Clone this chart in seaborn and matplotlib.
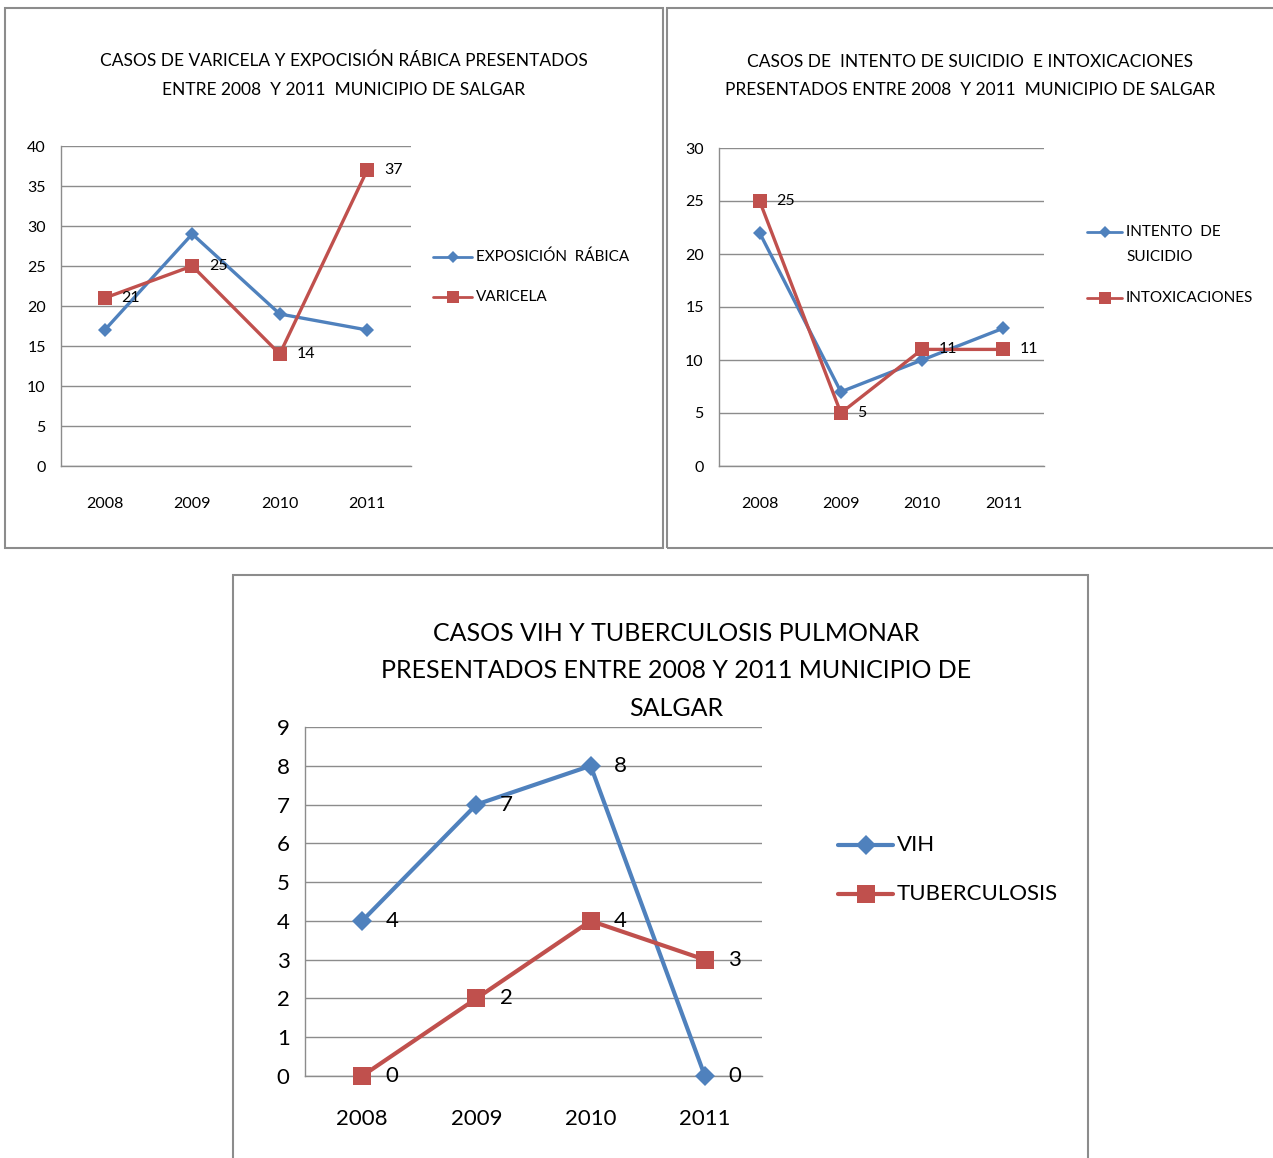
import numpy as np
import pandas as pd
import matplotlib
matplotlib.use("Agg")
import matplotlib.pyplot as plt
import matplotlib.patches as patches
from matplotlib.lines import Line2D
import seaborn as sns

# datos
years = ["2008", "2009", "2010", "2011"]
exposicion_rabica = [17, 29, 19, 17]
varicela = [21, 25, 14, 37]
intento_suicidio = [22, 7, 10, 13]
intoxicaciones = [25, 5, 11, 11]
vih = [4, 7, 8, 0]
tuberculosis = [0, 2, 4, 3]

sns.set_style("white")
plt.rcParams['font.family'] = ['Lato', 'DejaVu Sans']
plt.rcParams['text.color'] = 'black'
plt.rcParams['xtick.color'] = 'black'
plt.rcParams['ytick.color'] = 'black'

BLUE = "#4F81BD"
RED = "#C0504D"
GRID = "#8C8C8C"
W, H = 1273, 1158

fig = plt.figure(figsize=(W / 100, H / 100), dpi=100)


def fx(x):
    return x / W


def fy(y):
    return 1 - y / H


def frame(x0, y0, x1, y1):
    # marco del gráfico en pixeles (y desde arriba)
    rect = patches.Rectangle((fx(x0), fy(y1)), (x1 - x0) / W, (y1 - y0) / H,
                             transform=fig.transFigure, fill=False,
                             edgecolor="#8C8C8C", lw=1.5)
    fig.patches.append(rect)


def make_axes(x0, y0, x1, y1):
    return fig.add_axes([fx(x0), fy(y1), (x1 - x0) / W, (y1 - y0) / H])


def style_axes(ax, ymax, ystep, fs, xpad, tick_len):
    pos = np.arange(len(years))
    ax.set_xlim(-0.5, len(years) - 0.5)
    ax.set_ylim(0, ymax)
    ax.set_yticks(np.arange(0, ymax + 1, ystep))
    ax.set_xticks(np.arange(-0.5, len(years)), labels=[""] * (len(years) + 1))
    ax.set_xticks(pos, labels=years, minor=True)
    ax.tick_params(axis="x", which="major", length=tick_len, width=1, color=GRID, direction="out")
    ax.tick_params(axis="x", which="minor", length=0, pad=xpad, labelsize=fs)
    ax.tick_params(axis="y", length=5, width=1, color=GRID, direction="out", labelsize=fs, pad=6)
    ax.grid(axis="y", color=GRID, lw=1)
    ax.set_axisbelow(True)
    for s in ["top", "right"]:
        ax.spines[s].set_visible(False)
    for s in ["left", "bottom"]:
        ax.spines[s].set_color(GRID)
        ax.spines[s].set_linewidth(1)
    ax.set_xlabel("")
    ax.set_ylabel("")


def draw_series(ax, values, color, marker, ms, lw):
    df = pd.DataFrame({"x": np.arange(len(years)), "y": values})
    sns.lineplot(data=df, x="x", y="y", ax=ax, color=color, marker=marker,
                 markersize=ms, markeredgewidth=0, lw=lw, zorder=3, clip_on=False)


def label_series(ax, values, fs, dx):
    for i, v in enumerate(values):
        ax.annotate(str(v), (i, v), xytext=(dx, 0), textcoords="offset points",
                    ha="left", va="center", fontsize=fs, zorder=4)


def legend_entry(x0, x1, y, color, marker, ms, lw, text, fs, text_y=None, ls=1.2):
    # entrada de leyenda dibujada a mano (pixeles)
    fig.add_artist(Line2D([fx(x0), fx(x1)], [fy(y), fy(y)], transform=fig.transFigure,
                          color=color, lw=lw))
    fig.add_artist(Line2D([fx((x0 + x1) / 2)], [fy(y)], transform=fig.transFigure,
                          color=color, marker=marker, ms=ms, mew=0, ls=""))
    fig.text(fx(x1 + 4), fy(y if text_y is None else text_y), text, ha="left", va="center",
             fontsize=fs, linespacing=ls)


# ---- gráfico 1: varicela y exposición rábica
frame(5, 8, 663, 548)
ax1 = make_axes(61, 146, 411, 466)
draw_series(ax1, exposicion_rabica, BLUE, "D", 7.5, 2.4)
draw_series(ax1, varicela, RED, "s", 9.5, 2.4)
style_axes(ax1, 40, 5, 11.5, 22, 6)
label_series(ax1, varicela, 11.5, 12)
fig.text(fx(344), fy(75), "CASOS DE VARICELA Y EXPOCISIÓN RÁBICA PRESENTADOS\nENTRE 2008  Y 2011  MUNICIPIO DE SALGAR",
         ha="center", va="center", fontsize=12.5, linespacing=1.98)
legend_entry(433, 472, 257, BLUE, "D", 6, 2, "EXPOSICIÓN  RÁBICA", 11)
legend_entry(433, 472, 297, RED, "s", 8, 2, "VARICELA", 11)

# ---- gráfico 2: intento de suicidio e intoxicaciones
frame(667, 8, 1290, 548)
ax2 = make_axes(719, 148, 1044, 466)
draw_series(ax2, intento_suicidio, BLUE, "D", 7.5, 2.4)
draw_series(ax2, intoxicaciones, RED, "s", 9.5, 2.4)
style_axes(ax2, 30, 5, 11.5, 22, 6)
label_series(ax2, intoxicaciones, 11.5, 12)
fig.text(fx(970), fy(76), "CASOS DE  INTENTO DE SUICIDIO  E INTOXICACIONES\nPRESENTADOS ENTRE 2008  Y 2011  MUNICIPIO DE SALGAR",
         ha="center", va="center", fontsize=12.5, linespacing=1.98)
legend_entry(1087, 1122, 232, BLUE, "D", 6, 2, "INTENTO  DE\nSUICIDIO", 11, text_y=244.5, ls=1.92)
legend_entry(1087, 1122, 298, RED, "s", 8, 2, "INTOXICACIONES", 11)

# ---- gráfico 3: VIH y tuberculosis
frame(233, 575, 1088, 1175)
ax3 = make_axes(305, 727, 762, 1076)
draw_series(ax3, vih, BLUE, "D", 10, 3)
draw_series(ax3, tuberculosis, RED, "s", 13, 3)
style_axes(ax3, 9, 1, 16, 24, 6)
label_series(ax3, vih, 16, 17)
label_series(ax3, tuberculosis, 16, 17)
fig.text(fx(676), fy(671), "CASOS VIH Y TUBERCULOSIS PULMONAR\nPRESENTADOS ENTRE 2008 Y 2011 MUNICIPIO DE\nSALGAR",
         ha="center", va="center", fontsize=18, linespacing=1.76)
legend_entry(838, 893, 845, BLUE, "D", 10, 3, "VIH", 16)
legend_entry(838, 893, 894, RED, "s", 13, 3, "TUBERCULOSIS", 16)

fig.savefig("out.png", dpi=100, facecolor="white")
